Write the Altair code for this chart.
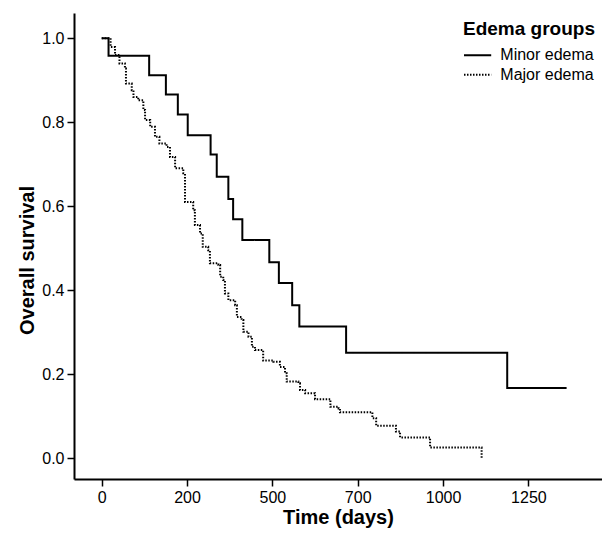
import altair as alt
import pandas as pd

# Minor edema (solid) Kaplan-Meier steps: time (axis units), survival after step
minor_t = [0, 20, 139, 188, 223, 252, 319, 337, 371, 385, 412, 491, 519, 558, 579, 716, 1188, 1362]
minor_s = [1.0, 0.958, 0.912, 0.866, 0.818, 0.769, 0.723, 0.670, 0.617, 0.569, 0.519, 0.466, 0.417, 0.364, 0.313, 0.251, 0.167, 0.167]

# Major edema (dotted)
major_t = [0, 26, 39, 52, 68, 71, 88, 93, 107, 122, 127, 142, 156, 169, 190, 200, 215, 239, 244,
           268, 273, 288, 296, 312, 317, 342, 347, 356, 361, 371, 391, 396, 410, 415, 430, 440, 449,
           473, 503, 522, 537, 542, 576, 581, 596, 625, 670, 694, 698, 793, 804, 862, 874, 962, 1113]
major_s = [1.0, 0.979, 0.960, 0.940, 0.928, 0.892, 0.876, 0.860, 0.852, 0.829, 0.805, 0.789, 0.765, 0.749, 0.741, 0.717, 0.690, 0.678, 0.610,
           0.590, 0.555, 0.535, 0.503, 0.495, 0.464, 0.460, 0.432, 0.424, 0.392, 0.376, 0.364, 0.336, 0.329, 0.301, 0.289, 0.265, 0.257,
           0.232, 0.229, 0.217, 0.202, 0.182, 0.178, 0.162, 0.154, 0.140, 0.122, 0.118, 0.109, 0.095, 0.077, 0.063, 0.049, 0.025, 0.0]

groups = ["Minor edema", "Major edema"]
x_tick_values = [0, 250, 500, 750, 1000, 1250]
x_tick_labels = ["0", "200", "500", "700", "1000", "1250"]
y_tick_values = [0.0, 0.2, 0.4, 0.6, 0.8, 1.0]

df = pd.concat([
    pd.DataFrame({"t": minor_t, "s": minor_s, "group": groups[0]}),
    pd.DataFrame({"t": major_t, "s": major_s, "group": groups[1]}),
], ignore_index=True)

label_expr = " : ".join(
    [f"datum.value == {v} ? '{l}'" for v, l in zip(x_tick_values, x_tick_labels)]
) + " : datum.label"

chart = alt.Chart(df).mark_line(interpolate="step-after", strokeWidth=2).encode(
    x=alt.X("t:Q",
            scale=alt.Scale(domain=[-81.2, 1465.7], nice=False, zero=False),
            axis=alt.Axis(title="Time (days)", values=x_tick_values, labelExpr=label_expr,
                          titlePadding=2)),
    y=alt.Y("s:Q",
            scale=alt.Scale(domain=[-0.05, 1.06], nice=False, zero=False),
            axis=alt.Axis(title="Overall survival", values=y_tick_values, format=".1f",
                          titlePadding=4, titleY=247)),
    color=alt.Color("group:N", scale=alt.Scale(domain=groups, range=["black", "black"]),
                    legend=alt.Legend(title="Edema groups")),
    strokeDash=alt.StrokeDash("group:N",
                              scale=alt.Scale(domain=groups, range=[[1, 0], [1.5, 1.5]]),
                              legend=alt.Legend(title="Edema groups")),
    order=alt.Order("t:Q"),
).properties(
    width=528, height=466,
    autosize=alt.AutoSizeParams(type="none"),
    padding={"left": 66, "top": 5, "right": 0, "bottom": 51},
).configure_view(stroke=None).configure_axis(
    grid=False,
    domainColor="black", domainWidth=2,
    tickColor="black", tickWidth=1.5, tickSize=7,
    labelFont="Liberation Sans", labelFontSize=16, labelColor="black", labelPadding=3,
    titleFont="Liberation Sans", titleFontSize=20, titleFontWeight="bold", titleColor="black",
).configure_legend(
    orient="none", legendX=389, legendY=6.5,
    titleFont="Liberation Sans", titleFontSize=19, titleFontWeight="bold", titleColor="black",
    labelFont="Liberation Sans", labelFontSize=16, labelColor="black",
    symbolType="M-1,0L2.2,0", symbolSize=289, symbolStrokeWidth=2, symbolStrokeColor="black",
    rowPadding=1.4, titlePadding=7.3, labelOffset=18.3,
)

chart.save("out.html", embed_options={"renderer": "svg", "actions": False})
